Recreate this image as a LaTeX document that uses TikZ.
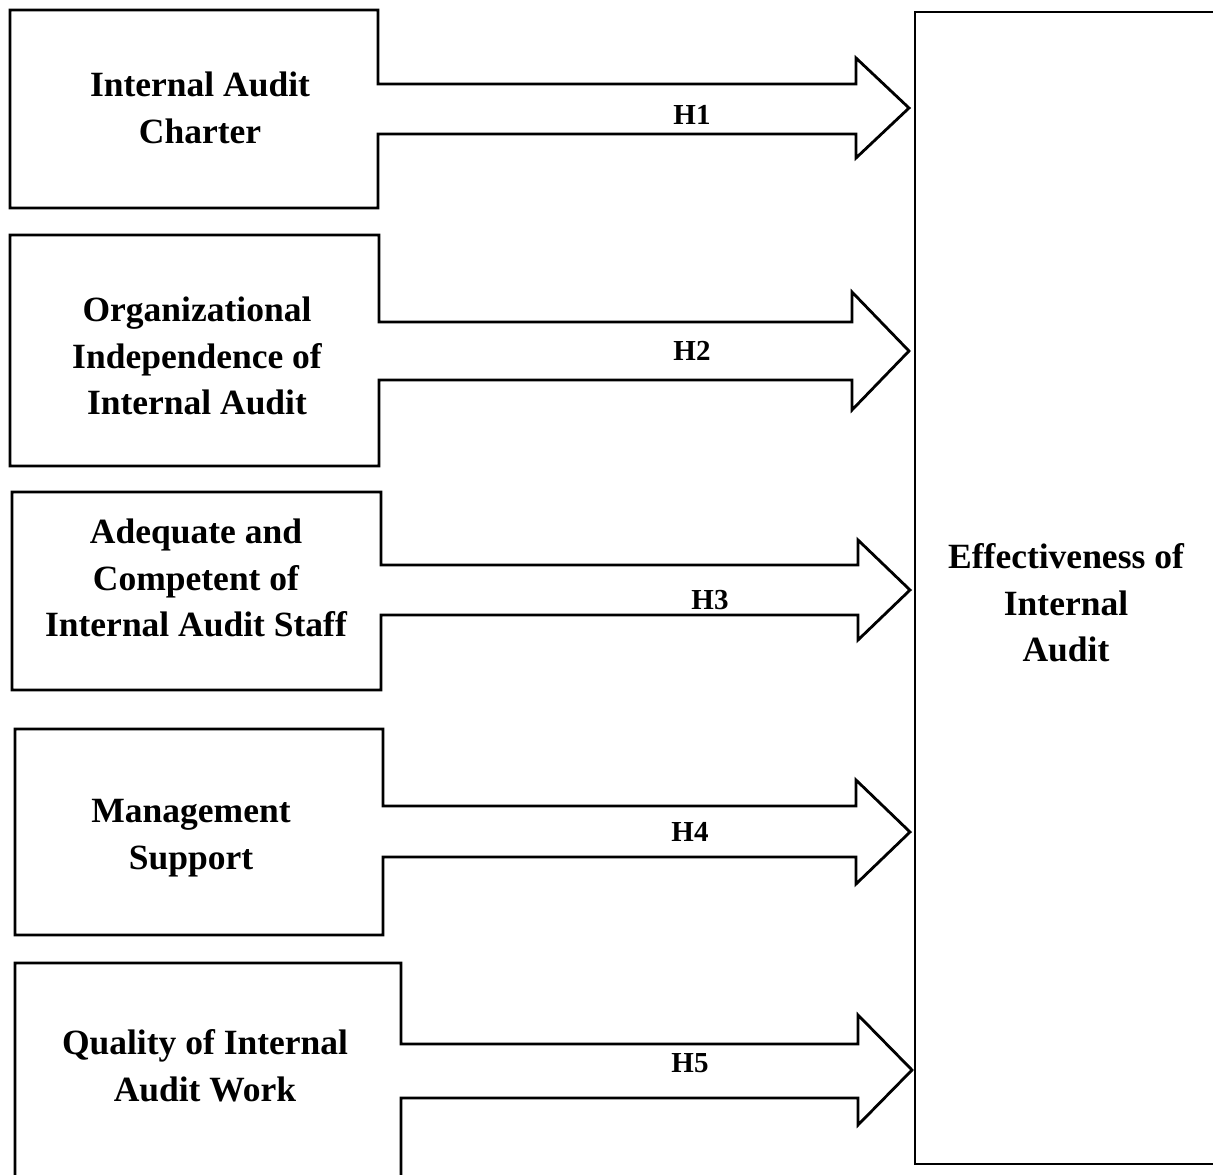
\documentclass[tikz,border=0pt]{standalone}
\usepackage{fontspec}
\setmainfont{Liberation Serif}
\tikzset{
  shape line/.style={draw=black, line width=2.8pt, line join=miter},
  boxtext/.style={font=\bfseries\fontsize{35.5}{46.5}\selectfont, align=center, inner sep=0pt},
  hlabel/.style={font=\bfseries\fontsize{29}{34}\selectfont, inner sep=0pt}
}
\begin{document}
\begin{tikzpicture}[x=1pt,y=-1pt]
\clip (0,0) rectangle (1213,1175);
\fill[white] (0,0) rectangle (1213,1175);
% box + arrow 1
\draw[shape line] (378,84) -- (378,10) -- (10,10) -- (10,208) -- (378,208) -- (378,134)
  -- (856,134) -- (856,158) -- (909,108) -- (856,58) -- (856,84) -- cycle;
% box + arrow 2
\draw[shape line] (379,322) -- (379,235) -- (10,235) -- (10,466) -- (379,466) -- (379,380)
  -- (852,380) -- (852,410) -- (909,351) -- (852,292) -- (852,322) -- cycle;
% box + arrow 3
\draw[shape line] (381,565) -- (381,492) -- (12,492) -- (12,690) -- (381,690) -- (381,615)
  -- (858,615) -- (858,640) -- (910,590) -- (858,540) -- (858,565) -- cycle;
% box + arrow 4
\draw[shape line] (383,806) -- (383,729) -- (15,729) -- (15,935) -- (383,935) -- (383,857)
  -- (856,857) -- (856,884) -- (910,832) -- (856,780) -- (856,806) -- cycle;
% box + arrow 5
\draw[shape line] (401,1044) -- (401,963) -- (15,963) -- (15,1190) -- (401,1190) -- (401,1098)
  -- (858,1098) -- (858,1125) -- (912,1070) -- (858,1015) -- (858,1044) -- cycle;
% dependent box
\draw[shape line] (915,12) rectangle (1230,1164);

\node[boxtext] (b1) at (200,108) {Internal Audit\\Charter};
\node[boxtext] (b2) at (197,356) {Organizational\\Independence of\\Internal Audit};
\node[boxtext] (b3) at (196,578) {Adequate and\\Competent of\\Internal Audit Staff};
\node[boxtext] (b4) at (191,838) {Management\\Support};
\node[boxtext] (b5) at (205,1066) {Quality of Internal\\Audit Work};
\node[boxtext] (eff) at (1066,603) {Effectiveness of\\Internal\\Audit};

\node[hlabel] (h1) at (692,115) {H1};
\node[hlabel] (h2) at (692,351) {H2};
\node[hlabel] (h3) at (710,600) {H3};
\node[hlabel] (h4) at (690,832) {H4};
\node[hlabel] (h5) at (690,1063) {H5};
\end{tikzpicture}
\end{document}
